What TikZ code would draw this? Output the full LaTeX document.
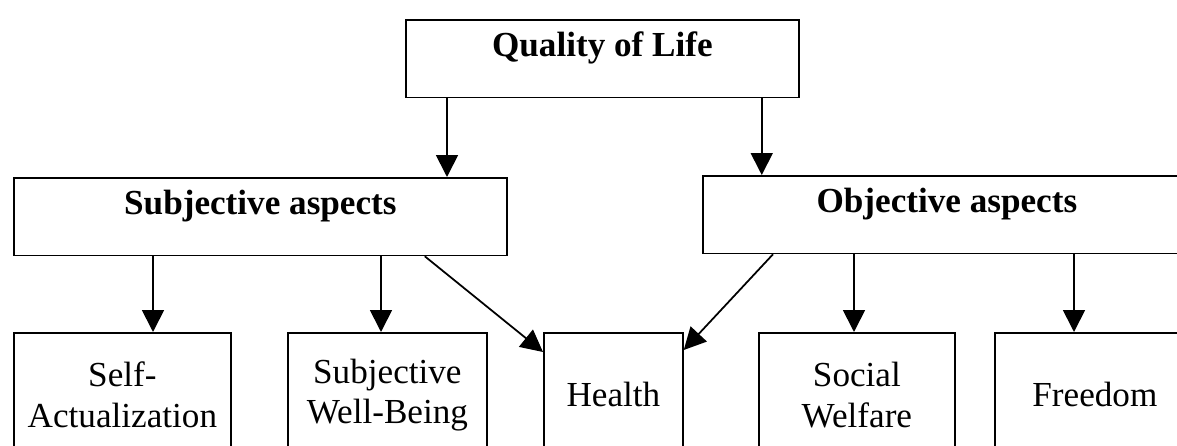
\documentclass[tikz,border=0pt]{standalone}
\usepackage{fontspec}
\setmainfont{Liberation Serif}
\usetikzlibrary{arrows.meta}
\tikzset{
	head/.style={draw, line width=1pt, anchor=north west, inner sep=0pt, text height=0.74cm, text depth=0.81cm, font=\fontsize{20}{23}\selectfont\bfseries},
	leaf/.style={draw, line width=1pt, anchor=north west, inner sep=0pt, minimum height=2.48cm, align=center, font=\fontsize{20}{23}\selectfont},
	link/.style={line width=1pt, -{Triangle[length=0.44cm, width=0.44cm]}}
}
\begin{document}
\begin{tikzpicture}
\useasboundingbox (0,0) rectangle (23.54,-8.92);
\fill[white] (0,0) rectangle (23.54,-8.92);
\clip (0,0) rectangle (23.54,-8.92);

\node[head, minimum width=7.86cm] (qol) at (8.10,-0.38) {Quality of Life};
\node[head, minimum width=9.86cm] (subj) at (0.26,-3.54) {Subjective aspects};
\node[head, minimum width=9.76cm] (obj) at (14.04,-3.50) {Objective aspects};

\node[leaf, minimum width=4.34cm] (selfact) at (0.26,-6.64) {Self-\\Actualization};
\node[leaf, minimum width=3.98cm] (wellbeing) at (5.74,-6.64) {Subjective\\Well-Being};
\node[leaf, minimum width=2.78cm] (health) at (10.86,-6.64) {Health};
\node[leaf, minimum width=3.92cm] (welfare) at (15.16,-6.64) {Social\\Welfare};
\node[leaf, minimum width=4.00cm] (freedom) at (19.88,-6.64) {Freedom};

\draw[link] ([xshift=0.84cm]qol.south west) -- ([xshift=0.84cm]qol.south west |- subj.north);
\draw[link] ([xshift=-0.76cm]qol.south east) -- ([xshift=-0.76cm]qol.south east |- obj.north);

\draw[link] ([xshift=2.80cm]subj.south west) -- ([xshift=2.80cm]subj.south west |- selfact.north);
\draw[link] ([xshift=7.36cm]subj.south west) -- ([xshift=7.36cm]subj.south west |- wellbeing.north);
\draw[link] ([xshift=-1.66cm]subj.south east) -- ([yshift=-0.40cm]health.north west);

\draw[link] ([xshift=1.42cm]obj.south west) -- ([yshift=-0.36cm]health.north east);
\draw[link] ([xshift=3.04cm]obj.south west) -- ([xshift=3.04cm]obj.south west |- welfare.north);
\draw[link] ([xshift=7.44cm]obj.south west) -- ([xshift=7.44cm]obj.south west |- freedom.north);
\end{tikzpicture}
\end{document}
